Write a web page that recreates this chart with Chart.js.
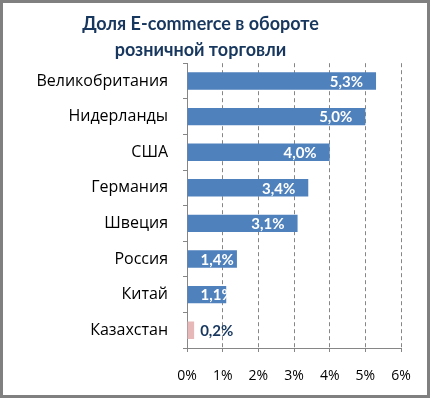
<!DOCTYPE html>
<html>
<head>
<meta charset="utf-8">
<script src="https://cdn.jsdelivr.net/npm/chart.js@4"></script>
<style>
  body { margin: 0; background: #fff; }
  canvas { display: block; }
</style>
</head>
<body>
<canvas id="chart" width="431" height="399"></canvas>
<script>
const titleLines = ["Доля E-commerce в обороте", "розничной торговли"]
const countries = ["Великобритания", "Нидерланды", "США", "Германия", "Швеция", "Россия", "Китай", "Казахстан"]
const shares = [5.3, 5.0, 4.0, 3.4, 3.1, 1.4, 1.1, 0.2]
const valueLabels = ["5,3%", "5,0%", "4,0%", "3,4%", "3,1%", "1,4%", "1,1%", "0,2%"]
const xTicks = [0, 1, 2, 3, 4, 5, 6]

const FONT = "Lato"
const LABEL_FONT = "Open Sans"
const NAVY = "#17375E"
const AXIS_GREY = "#868686"

const barColors = countries.map((c) => (c === "Казахстан" ? "#E6B9B8" : "#4F81BD"))

// frame around the whole picture, like the excel chart area border
const framePlugin = {
    id: "frame",
    beforeDraw(chart) {
        const ctx = chart.ctx
        ctx.save()
        ctx.fillStyle = "#fff"
        ctx.fillRect(0, 0, chart.width, chart.height)
        ctx.restore()
    },
    afterDraw(chart) {
        const ctx = chart.ctx
        ctx.save()
        ctx.strokeStyle = "#808080"
        ctx.lineWidth = 3
        ctx.strokeRect(1.5, 1.5, chart.width - 4, chart.height - 4)
        ctx.restore()
    },
}

// value labels: white inside the bar end, or navy after a bar that is too short
const valueLabelPlugin = {
    id: "valueLabels",
    afterDatasetsDraw(chart) {
        const ctx = chart.ctx
        const meta = chart.getDatasetMeta(0)
        ctx.save()
        ctx.font = `bold 15px ${FONT}`
        ctx.textBaseline = "middle"
        ctx.textAlign = "left"
        meta.data.forEach((bar, i) => {
            const text = valueLabels[i]
            const w = ctx.measureText(text).width
            const pad = 13
            const len = bar.x - bar.base
            if (len < 20) {
                ctx.fillStyle = NAVY
                ctx.fillText(text, bar.x + 6, bar.y + 1)
            } else {
                ctx.fillStyle = "#fff"
                const x = Math.max(bar.base + pad, bar.x - pad - w)
                ctx.fillText(text, x, bar.y + 1)
            }
        })
        ctx.restore()
    },
}

const ctx = document.getElementById("chart").getContext("2d")
new Chart(ctx, {
    type: "bar",
    data: {
        labels: countries,
        datasets: [
            {
                data: shares,
                backgroundColor: barColors,
                borderWidth: 0,
                barPercentage: 0.49,
                categoryPercentage: 1,
            },
        ],
    },
    options: {
        indexAxis: "y",
        responsive: false,
        animation: false,
        layout: {
            padding: { left: 0, right: 30, top: 0, bottom: 0 },
        },
        plugins: {
            legend: { display: false },
            tooltip: { enabled: false },
            title: {
                display: true,
                text: titleLines,
                color: NAVY,
                font: { family: FONT, size: 18, weight: "bold", lineHeight: 1.45 },
                padding: { top: 11, bottom: 0 },
            },
        },
        scales: {
            x: {
                min: 0,
                max: 6,
                afterBuildTicks(scale) {
                    scale.ticks = xTicks.map((v) => ({ value: v }))
                },
                afterFit(scale) {
                    scale.height = 51
                },
                ticks: {
                    callback: (v) => v + "%",
                    color: "#000",
                    font: { family: LABEL_FONT, size: 14 },
                    padding: 16,
                    maxRotation: 0,
                },
                grid: {
                    color: AXIS_GREY,
                    lineWidth: 1,
                    drawTicks: true,
                    tickLength: 4,
                    tickColor: AXIS_GREY,
                },
                border: {
                    display: true,
                    color: AXIS_GREY,
                    width: 1,
                    dash: [4, 3],
                },
            },
            y: {
                afterFit(scale) {
                    scale.width = 187
                },
                ticks: {
                    color: "#000",
                    font: { family: LABEL_FONT, size: 16 },
                    padding: 15,
                },
                grid: {
                    drawOnChartArea: false,
                    drawTicks: true,
                    tickLength: 4,
                    tickColor: AXIS_GREY,
                },
                border: {
                    display: true,
                    color: AXIS_GREY,
                    width: 1,
                },
            },
        },
    },
    plugins: [framePlugin, valueLabelPlugin],
})
</script>
</body>
</html>
